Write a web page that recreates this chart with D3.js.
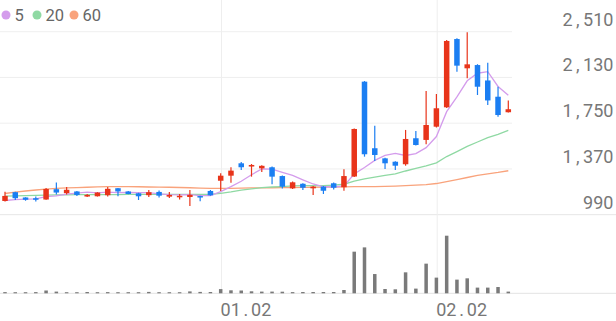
<!DOCTYPE html>
<html lang="ko">
<head>
<meta charset="utf-8">
<title>Daily candle chart</title>
<style>
  body { margin: 0; background: #fff; }
  svg { display: block; font-family: Roboto, "Noto Sans", sans-serif; }
</style>
<script src="https://cdn.jsdelivr.net/npm/d3@7"></script>
</head>
<body>
<script>
  let width = 616
  let height = 321

  // daily OHLC, one entry per trading day
  const opens  = [1104,1177,1133,1127,1116,1202,1169,1183,1141,1143,1152,1210,1183,1168,1152,1179,1140,1135,1137,1145,1187,1272,1314,1417,1390,1375,1384,1311,1209,1247,1209,1223,1251,1218,1307,2095,1542,1458,1430,1409,1625,1611,1721,1882,2449,2206,2233,2105,1970,1841]
  const highs  = [1180,1180,1135,1141,1212,1258,1220,1186,1162,1177,1220,1212,1186,1172,1195,1191,1179,1162,1195,1147,1195,1334,1384,1428,1411,1400,1390,1315,1266,1252,1228,1228,1258,1367,1705,2100,1729,1462,1434,1694,1685,2017,1993,2441,2455,2505,2240,2252,2053,1939]
  const lows   = [1100,1112,1106,1100,1114,1158,1158,1146,1137,1141,1141,1144,1160,1112,1137,1133,1129,1116,1062,1101,1148,1187,1256,1361,1306,1345,1243,1208,1203,1195,1154,1162,1200,1189,1303,1472,1436,1370,1361,1397,1565,1575,1715,1876,2178,2123,1984,1901,1804,1838]
  const closes = [1146,1127,1114,1114,1204,1174,1197,1154,1154,1174,1205,1183,1162,1143,1177,1148,1154,1147,1155,1137,1151,1314,1356,1384,1403,1396,1306,1223,1259,1214,1223,1189,1214,1311,1702,1492,1486,1417,1397,1619,1569,1735,1874,2433,2228,2239,2053,1939,1818,1866]
  const volumes = [120,110,110,120,280,170,110,110,130,110,120,110,110,110,140,110,110,110,190,140,130,420,300,280,200,170,170,160,120,130,130,130,130,330,4170,4600,1930,430,400,2100,470,2970,1570,5770,1370,1500,570,570,630,170]

  // moving averages
  const ma5  = [1108,1115,1120,1122,1141,1147,1161,1169,1177,1171,1177,1174,1176,1173,1174,1163,1157,1154,1156,1148,1149,1181,1223,1268,1322,1371,1369,1342,1317,1280,1245,1222,1220,1230,1328,1382,1441,1482,1499,1482,1498,1547,1639,1846,1968,2102,2165,2178,2055,1983]
  const ma20 = [1145,1147,1149,1151,1153,1154,1155,1156,1156,1157,1157,1157,1158,1158,1158,1158,1158,1158,1158,1159,1159,1168,1180,1194,1204,1215,1220,1224,1229,1231,1232,1232,1235,1243,1269,1287,1303,1317,1329,1353,1374,1395,1421,1473,1514,1557,1594,1630,1658,1690]
  const ma60 = [1166,1177,1187,1195,1203,1208,1212,1215,1218,1221,1223,1223,1223,1222,1220,1219,1218,1216,1214,1211,1209,1209,1209,1210,1212,1213,1214,1215,1216,1217,1218,1219,1220,1221,1223,1223,1224,1226,1228,1231,1235,1240,1249,1265,1282,1299,1316,1329,1341,1355]

  const priceTicks = [990, 1370, 1750, 2130, 2510]
  const dateLabels = ["01.02", "02.02"]
  const dateIndex = [21, 42]

  const legendNames = ["5", "20", "60"]
  const legendColors = ["#d49cec", "#8fd9a3", "#f9a37c"]

  const upColor = "#e8341a"
  const downColor = "#1b7ef2"
  const charW = 10.2

  let svg = d3.select("body").append("svg")
      .attr("width", width)
      .attr("height", height)

  let xScale = d3.scaleLinear().domain([0, closes.length - 1]).range([5, 508.3])
  let yScale = d3.scaleLinear().domain([990, 2510]).range([214.7, 31.7])
  let volScale = d3.scaleLinear().domain([0, d3.max(volumes)]).range([293.3, 235.7])

  // grid
  svg.append("g").selectAll("line")
      .data(priceTicks.slice(1))
      .enter().append("line")
      .attr("x1", 0).attr("x2", 512)
      .attr("y1", d => yScale(d)).attr("y2", d => yScale(d))
      .attr("stroke", "#efefef")

  svg.append("line")
      .attr("x1", 0).attr("x2", width)
      .attr("y1", yScale(990)).attr("y2", yScale(990))
      .attr("stroke", "#e6e6e6")

  svg.append("line")
      .attr("x1", 0).attr("x2", width)
      .attr("y1", volScale(0)).attr("y2", volScale(0))
      .attr("stroke", "#e3e3e3")

  svg.append("g").selectAll("line")
      .data(dateIndex)
      .enter().append("line")
      .attr("x1", d => xScale(d) + 0.8).attr("x2", d => xScale(d) + 0.8)
      .attr("y1", 0).attr("y2", volScale(0))
      .attr("stroke", "#eeeeee")

  // price labels, every character in a fixed-width cell
  let fmt = d3.format(",")
  let cellX = (s, start) => s.split("").map((c, k) => (start + charW * (k + 0.5)).toFixed(1)).join(" ")

  svg.append("g").selectAll("text")
      .data(priceTicks)
      .enter().append("text")
      .attr("x", d => cellX(fmt(d), 613.5 - charW * fmt(d).length))
      .attr("y", d => yScale(d) - 6)
      .attr("text-anchor", "middle")
      .attr("font-size", 18)
      .attr("fill", "#777")
      .text(d => fmt(d))

  svg.append("g").selectAll("text")
      .data(dateLabels)
      .enter().append("text")
      .attr("x", (d, i) => cellX(d, xScale(dateIndex[i]) - 0.3))
      .attr("y", 316)
      .attr("text-anchor", "middle")
      .attr("font-size", 18)
      .attr("fill", "#777")
      .text(d => d)

  // moving averages
  let line = d3.line().x((d, i) => xScale(i)).y(d => yScale(d))
  ;[ma60, ma20, ma5].forEach((series, k) => {
    svg.append("path")
        .attr("d", line(series))
        .attr("fill", "none")
        .attr("stroke", legendColors[2 - k])
        .attr("stroke-width", 1.3)
  })

  // candles
  let candles = svg.append("g").selectAll("g")
      .data(closes)
      .enter().append("g")
      .attr("fill", (d, i) => d >= opens[i] ? upColor : downColor)
      .attr("stroke", (d, i) => d >= opens[i] ? upColor : downColor)

  candles.append("line")
      .attr("x1", (d, i) => xScale(i)).attr("x2", (d, i) => xScale(i))
      .attr("y1", (d, i) => yScale(highs[i]))
      .attr("y2", (d, i) => yScale(lows[i]))
      .attr("stroke-width", 1.2)

  candles.append("rect")
      .attr("x", (d, i) => xScale(i) - 2.75)
      .attr("width", 5.5)
      .attr("y", (d, i) => yScale(Math.max(d, opens[i])))
      .attr("height", (d, i) => Math.max(1.5, Math.abs(yScale(d) - yScale(opens[i]))))
      .attr("stroke", "none")

  // volume
  svg.append("g").selectAll("rect")
      .data(volumes)
      .enter().append("rect")
      .attr("x", (d, i) => xScale(i) - 1.75)
      .attr("width", 3.5)
      .attr("y", d => volScale(d))
      .attr("height", d => volScale(0) - volScale(d))
      .attr("fill", "#7a7a7a")

  // legend
  let legend = svg.append("g")
  let legendX = [6, 37, 74]
  legend.selectAll("circle")
      .data(legendNames)
      .enter().append("circle")
      .attr("cx", (d, i) => legendX[i])
      .attr("cy", 15)
      .attr("r", 4.5)
      .attr("fill", (d, i) => legendColors[i])
  legend.selectAll("text")
      .data(legendNames)
      .enter().append("text")
      .attr("x", (d, i) => legendX[i] + 8.5)
      .attr("y", 21)
      .attr("font-size", 16.5)
      .attr("fill", "#666")
      .text(d => d)
</script>
</body>
</html>
